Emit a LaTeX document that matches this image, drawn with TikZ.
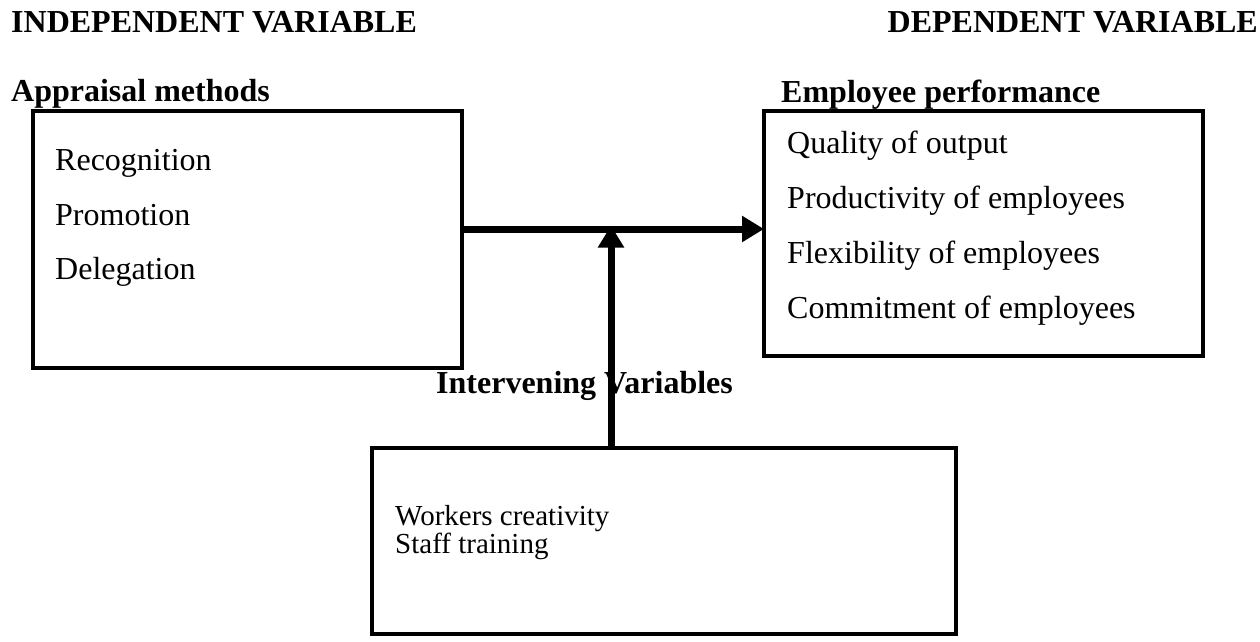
\documentclass[tikz,border=0pt]{standalone}
\usepackage{fontspec}
\setmainfont{Liberation Serif}
\usetikzlibrary{arrows.meta}
\tikzset{
  box/.style={draw, line width=4pt, inner sep=0pt, outer sep=0pt, rectangle},
  head/.style={anchor=base west, inner sep=0pt, font=\fontsize{32}{38}\selectfont\bfseries},
  item/.style={anchor=base west, inner sep=0pt, font=\fontsize{32}{38}\selectfont},
  small/.style={anchor=base west, inner sep=0pt, font=\fontsize{29}{28}\selectfont, align=left},
  flow/.style={line width=7pt, -{Triangle[length=22pt,width=25pt]}}
}
\begin{document}
\begin{tikzpicture}[x=1pt,y=-1pt]
\useasboundingbox[fill=white] (0,0) rectangle (1260,641);
% headings
\node[head] (ivh) at (11,32) {INDEPENDENT VARIABLE};
\node[head, anchor=base east] (dvh) at (1258,32) {DEPENDENT VARIABLE};
\node[head] (amh) at (11,101) {Appraisal methods};
\node[head] (eph) at (781,102) {Employee performance};
% boxes
\node[box, minimum width=429pt, minimum height=257pt] (L) at (247.5,239.5) {};
\node[box, minimum width=439pt, minimum height=245pt] (R) at (983.5,233.5) {};
\node[box, minimum width=584pt, minimum height=186pt] (B) at (664,541) {};
% left items
\node[item] (l1) at (55,170) {Recognition};
\node[item] (l2) at (55,225) {Promotion};
\node[item] (l3) at (55,279) {Delegation};
% right items
\node[item] (r1) at (787,153) {Quality of output};
\node[item] (r2) at (787,208) {Productivity of employees};
\node[item] (r3) at (787,263) {Flexibility of employees};
\node[item] (r4) at (787,318) {Commitment of employees};
% bottom items
\node[small] (b1) at (395,525) {Workers creativity};
\node[small] (b2) at (395,553) {Staff training};
% intervening label
\node[head] (ivl) at (436,393) {Intervening Variables};
% connectors
\coordinate (j) at (611,229);
\draw[flow] (L.east |- j) -- (R.west |- j);
\draw[flow] (B.north -| j) -- ([yshift=3.5pt]j);
\end{tikzpicture}
\end{document}
